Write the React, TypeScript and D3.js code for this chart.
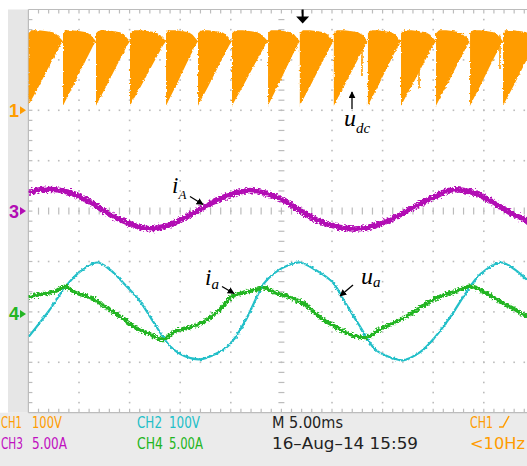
import React from "react";
import * as d3 from "d3";

const WIDTH = 527;
const HEIGHT = 466;

// CH1 u_dc : 100 V/div, ground marker at +2 div
const udcCycleStartMs = [0, 3.42, 6.68, 10.04, 13.6, 16.76, 20.12, 23.68, 26.82, 30.18, 33.55, 36.82, 40.28, 43.64, 46.9];
const udcShapeFrac = [0, 0.09, 0.3, 0.53, 0.71, 0.83, 0.92, 1.0];
const udcUpperV = [153, 159, 159, 157, 155, 150, 143, 137];
const udcLowerV = [9, 21, 47, 78, 102, 117, 129, 137];
const udcSpikeMs = [32.96, 38.6, 46.6];
const udcSpikeV = [68, 43, 82];

// CH3 i_A : 5 A/div, marker at 0 div
const iATimeMs = [0, 1.15, 2.63, 4.11, 6.09, 8.06, 10.04, 11.72, 13.5, 15.47, 17.45, 19.43, 21.6, 23.18, 24.86, 26.84, 28.81, 30.79, 32.27, 34.25, 36.22, 38.2, 40.18, 41.66, 43.64, 45.62, 47.59, 49.27, 50];
const iAValueA = [1.83, 2.13, 2.13, 1.83, 0.89, -0.35, -1.24, -1.73, -1.53, -0.64, 0.45, 1.44, 2.03, 1.83, 1.24, 0.05, -1.04, -1.63, -1.78, -1.44, -0.64, 0.45, 1.44, 2.08, 1.93, 1.04, -0.15, -0.94, -1.2];

// CH2 u_a : 100 V/div, marker at -2 div
const uaTimeMs = [0, 2.13, 3.62, 5.1, 6.78, 8.06, 9.55, 11.03, 12.51, 14.0, 15.47, 16.95, 18.43, 19.92, 21.4, 22.69, 23.18, 24.37, 25.85, 26.84, 28.32, 30.1, 31.28, 32.77, 34.25, 35.73, 37.02, 38.7, 40.18, 41.66, 43.14, 44.62, 46.7, 48.08, 49.27, 50];
const uaValueV = [-50, 5, 49, 80, 98, 84, 54, 21, -25, -68, -88, -94, -84, -64, -19, 35, 54, 78, 94, 98, 84, 58, 19, -29, -74, -90, -96, -80, -50, -11, 35, 74, 98, 84, 64, 55];

// CH4 i_a : 5 A/div, marker at -2 div
const iaTimeMs = [0, 1.15, 2.63, 3.62, 4.6, 6.09, 7.57, 9.05, 10.53, 12.01, 13.3, 14.49, 15.97, 17.45, 18.93, 20.12, 21.4, 22.69, 23.18, 24.37, 25.85, 27.33, 28.81, 30.3, 31.78, 33.36, 34.74, 36.22, 37.7, 39.19, 40.67, 42.15, 43.64, 45.12, 46.6, 48.08, 49.27, 50];
const iaValueA = [1.44, 1.73, 2.03, 2.52, 1.93, 1.44, 0.54, -0.45, -1.53, -2.23, -2.72, -1.93, -1.53, -0.94, 0.25, 1.53, 1.93, 2.23, 2.43, 1.93, 1.44, 0.74, -0.54, -1.44, -2.23, -2.52, -1.73, -1.04, -0.25, 0.74, 1.53, 2.03, 2.52, 1.93, 1.04, 0.25, -0.45, -0.8];

// readout texts
const readoutRow1 = ["CH1", "100V", "CH2", "100V", "M 5.00ms", "CH1"];
const readoutRow2 = ["CH3", "5.00A", "CH4", "5.00A", "16\u2013Aug\u201314 15:59", "<10Hz"];

const C_OR = "#ff9c00";
const C_MG = "#b20cb4";
const C_CY = "#22bfc8";
const C_GR = "#22b522";
const GRID = "#bcbcbc";

export default function App() {
  const left = 28.4;
  const top = 9.5;
  const bottom = 412.7;
  const x = d3.scaleLinear().domain([0, 50]).range([left, left + 10 * 50.6]);
  const yDiv = d3.scaleLinear().domain([-4, 4]).range([bottom, top]);
  const ch = (perDiv: number, offset: number) => (v: number) => yDiv(offset + v / perDiv);
  const y1 = ch(100, 2);
  const y2 = ch(100, -2);
  const y3 = ch(5, 0);
  const y4 = ch(5, -2);

  const gridEls: React.ReactNode[] = [];
  const divX = (i: number) => x(i * 5);
  const minorX = d3.range(1, 50).map((k) => x(k * 1));
  const minorY = d3.range(1, 40).map((k) => yDiv(-4 + k * 0.2));
  for (let i = 1; i <= 9; i++) {
    if (i === 5) continue;
    minorY.forEach((yy, k) =>
      gridEls.push(<rect key={`v${i}-${k}`} x={divX(i) - 0.8} y={yy - 0.8} width={1.6} height={1.6} fill={GRID} />)
    );
  }
  for (let j = 1; j <= 7; j++) {
    if (j === 4) continue;
    const yy = yDiv(-4 + j);
    minorX.forEach((xx, k) =>
      gridEls.push(<rect key={`h${j}-${k}`} x={xx - 0.8} y={yy - 0.8} width={1.6} height={1.6} fill={GRID} />)
    );
  }
  minorX.forEach((xx, k) =>
    gridEls.push(<line key={`ct${k}`} x1={xx} x2={xx} y1={yDiv(0) - 3.5} y2={yDiv(0) + 3.5} stroke={GRID} strokeWidth={1.2} />)
  );
  minorY.forEach((yy, k) =>
    gridEls.push(<line key={`cv${k}`} x1={divX(5) - 3} x2={divX(5) + 3} y1={yy} y2={yy} stroke={GRID} strokeWidth={1.2} />)
  );
  minorX.forEach((xx, k) => {
    gridEls.push(<line key={`tt${k}`} x1={xx} x2={xx} y1={top} y2={top + 4} stroke={GRID} strokeWidth={1.2} />);
    gridEls.push(<line key={`bt${k}`} x1={xx} x2={xx} y1={bottom} y2={bottom - 4} stroke={GRID} strokeWidth={1.2} />);
  });
  minorY.forEach((yy, k) =>
    gridEls.push(<line key={`lt${k}`} x1={left} x2={left + 4} y1={yy} y2={yy} stroke={GRID} strokeWidth={1.2} />)
  );

  const area = d3
    .area<{ t: number; lo: number; hi: number }>()
    .x((d) => x(d.t))
    .y0((d) => y1(d.lo))
    .y1((d) => y1(d.hi));
  const udcPaths = udcCycleStartMs.map((s, i) => {
    const e = i + 1 < udcCycleStartMs.length ? udcCycleStartMs[i + 1] : s + 3.36;
    const pts = udcShapeFrac.map((f, k) => ({ t: s + f * (e - s), lo: udcLowerV[k], hi: udcUpperV[k] }));
    return area(pts) as string;
  });

  const mkLine = (ts: number[], vs: number[], yf: (v: number) => number) =>
    d3
      .line<number>()
      .x((_, i) => x(ts[i]))
      .y((v) => yf(v))
      .curve(d3.curveCatmullRom.alpha(0.5))(vs) as string;

  const markerFont = "'Liberation Sans', Arial, sans-serif";
  const chMarker = (label: string, yy: number, color: string, key: string) => (
    <g key={key}>
      <text x={9} y={yy + 6.5} fontFamily={markerFont} fontSize={18} fontWeight={600} fill={color}>
        {label}
      </text>
      <path d={`M20,${yy - 4} L26,${yy} L20,${yy + 4} Z`} fill={color} />
    </g>
  );

  const readFont = "'Liberation Sans Narrow', 'DejaVu Sans Condensed', 'Liberation Sans', sans-serif";
  const serif = "'Liberation Serif', 'Times New Roman', serif";
  const tx = x(27.1);

  return (
    <svg
      width={WIDTH}
      height={HEIGHT}
      style={{ position: "absolute", left: 0, top: 0, background: "#fff" }}
    >
      <defs>
        <clipPath id="plotClip">
          <rect x={left} y={top} width={WIDTH - left} height={bottom - top} />
        </clipPath>
        <filter id="jitA" filterUnits="userSpaceOnUse" x={0} y={0} width={WIDTH} height={HEIGHT}>
          <feTurbulence type="fractalNoise" baseFrequency="0.45 0.6" numOctaves={2} seed={4} result="n" />
          <feDisplacementMap in="SourceGraphic" in2="n" scale={6} xChannelSelector="R" yChannelSelector="G" />
        </filter>
        <filter id="jitB" filterUnits="userSpaceOnUse" x={0} y={0} width={WIDTH} height={HEIGHT}>
          <feTurbulence type="fractalNoise" baseFrequency="0.35 0.5" numOctaves={2} seed={9} result="n" />
          <feDisplacementMap in="SourceGraphic" in2="n" scale={3} xChannelSelector="R" yChannelSelector="G" />
        </filter>
        <marker id="arr" viewBox="0 0 10 10" refX={9} refY={5} markerWidth={7} markerHeight={7} orient="auto-start-reverse" markerUnits="userSpaceOnUse">
          <path d="M0,0 L10,5 L0,10 Z" fill="#000" />
        </marker>
      </defs>

      <rect x={8} y={top} width={left - 8} height={bottom - top} fill="#e6e6e6" />
      <rect x={0} y={bottom} width={WIDTH} height={HEIGHT - bottom} fill="#ebebeb" />
      <rect x={left} y={top} width={WIDTH - left} height={bottom - top} fill="#fff" />

      {gridEls}
      <line x1={left} x2={WIDTH} y1={top} y2={top} stroke={GRID} strokeWidth={1.2} />
      <line x1={left} x2={WIDTH} y1={bottom} y2={bottom} stroke={GRID} strokeWidth={1.2} />
      <line x1={left} x2={left} y1={top} y2={bottom} stroke={GRID} strokeWidth={1.2} />

      <g clipPath="url(#plotClip)">
        <g filter="url(#jitB)">
          {udcPaths.map((d, i) => (
            <path key={i} d={d} fill={C_OR} />
          ))}
          {udcSpikeMs.map((t, i) => (
            <line key={i} x1={x(t)} x2={x(t)} y1={y1(150)} y2={y1(udcSpikeV[i])} stroke={C_OR} strokeWidth={1.6} />
          ))}
        </g>
        <path d={mkLine(iATimeMs, iAValueA, y3)} fill="none" stroke={C_MG} strokeWidth={5.5} filter="url(#jitA)" />
        <path d={mkLine(uaTimeMs, uaValueV, y2)} fill="none" stroke={C_CY} strokeWidth={2.2} filter="url(#jitB)" />
        <path d={mkLine(iaTimeMs, iaValueA, y4)} fill="none" stroke={C_GR} strokeWidth={3.8} filter="url(#jitA)" />
      </g>

      {chMarker("1", y1(0), C_OR, "m1")}
      {chMarker("3", y3(0), C_MG, "m3")}
      {chMarker("4", y4(0) + 2, C_GR, "m4")}

      <path d={`M${tx - 1},${top} L${tx + 1},${top} L${tx + 1},${top + 7} L${tx + 6.5},${top + 7} L${tx},${top + 14} L${tx - 6.5},${top + 7} L${tx - 1},${top + 7} Z`} fill="#000" />

      <text x={344} y={126} fontFamily={serif} fontStyle="italic" fontSize={24} fill="#000">
        u<tspan fontSize={15} dy={7}>dc</tspan>
      </text>
      <line x1={352} y1={109} x2={352} y2={92} stroke="#000" strokeWidth={1.3} markerEnd="url(#arr)" />

      <text x={172} y={193} fontFamily={serif} fontStyle="italic" fontSize={23} fill="#000">
        i<tspan fontSize={13} dy={6}>A</tspan>
      </text>
      <line x1={190} y1={196.5} x2={203} y2={204.5} stroke="#000" strokeWidth={1.3} markerEnd="url(#arr)" />

      <text x={205} y={285} fontFamily={serif} fontStyle="italic" fontSize={23} fill="#000">
        i<tspan fontSize={15} dy={4}>a</tspan>
      </text>
      <line x1={222} y1={286.5} x2={234} y2={293.5} stroke="#000" strokeWidth={1.3} markerEnd="url(#arr)" />

      <text x={361} y={284} fontFamily={serif} fontStyle="italic" fontSize={24} fill="#000">
        u<tspan fontSize={15} dy={3}>a</tspan>
      </text>
      <line x1={353} y1={285} x2={340} y2={296} stroke="#000" strokeWidth={1.3} markerEnd="url(#arr)" />

      <g fontFamily={readFont} fontSize={16.5}>
        <text x={1} y={428} fill={C_OR} textLength={21} lengthAdjust="spacingAndGlyphs">{readoutRow1[0]}</text>
        <text x={32} y={428} fill={C_OR} textLength={30} lengthAdjust="spacingAndGlyphs">{readoutRow1[1]}</text>
        <text x={137} y={428} fill={C_CY} textLength={25} lengthAdjust="spacingAndGlyphs">{readoutRow1[2]}</text>
        <text x={169} y={428} fill={C_CY} textLength={31} lengthAdjust="spacingAndGlyphs">{readoutRow1[3]}</text>
        <text x={272} y={428} fill="#222" textLength={71} lengthAdjust="spacingAndGlyphs">{readoutRow1[4]}</text>
        <text x={470} y={428} fill={C_OR} textLength={23} lengthAdjust="spacingAndGlyphs">{readoutRow1[5]}</text>
        <path d="M499,427 L503,427 L509,416" fill="none" stroke={C_OR} strokeWidth={1.5} />

        <text x={1} y={449} fill="#c010c0" textLength={22} lengthAdjust="spacingAndGlyphs">{readoutRow2[0]}</text>
        <text x={32} y={449} fill="#c010c0" textLength={35} lengthAdjust="spacingAndGlyphs">{readoutRow2[1]}</text>
        <text x={137} y={449} fill={C_GR} textLength={26} lengthAdjust="spacingAndGlyphs">{readoutRow2[2]}</text>
        <text x={169} y={449} fill={C_GR} textLength={34} lengthAdjust="spacingAndGlyphs">{readoutRow2[3]}</text>
        <text x={272} y={449} fill="#222" textLength={146} lengthAdjust="spacingAndGlyphs">{readoutRow2[4]}</text>
        <text x={470} y={449} fill={C_OR} textLength={55} lengthAdjust="spacingAndGlyphs">{readoutRow2[5]}</text>
      </g>
    </svg>
  );
}
